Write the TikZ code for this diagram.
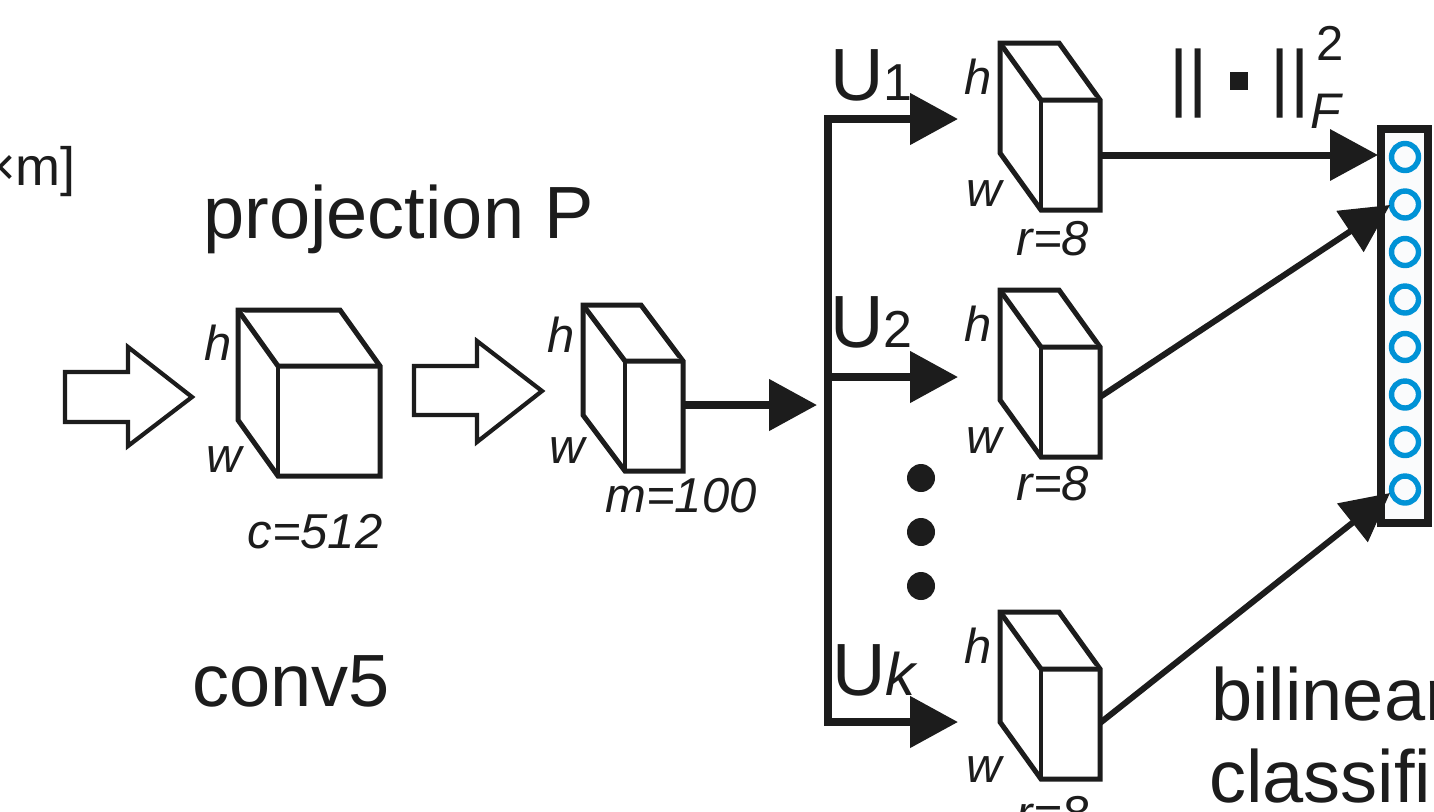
\documentclass[tikz,border=0pt]{standalone}
\usepackage{fontspec}
\setmainfont{Liberation Sans}
\usetikzlibrary{arrows.meta}
\definecolor{ink}{RGB}{28,28,28}
\definecolor{ringblue}{RGB}{0,146,214}
\definecolor{clffill}{RGB}{250,251,252}
\newcommand\mycube[6]{%
  \pgfmathsetmacro\cbAx{#1+#3}\pgfmathsetmacro\cbAy{#2+#4}%
  \pgfmathsetmacro\cbBx{#1+#5}\pgfmathsetmacro\cbCx{#1+#3+#5}%
  \pgfmathsetmacro\cbBy{#2+#6}\pgfmathsetmacro\cbCy{#2+#4+#6}%
  \filldraw[cubeline] (#1,#2) -- (\cbBx,#2) -- (\cbCx,\cbAy) -- (\cbCx,\cbCy) -- (\cbAx,\cbCy) -- (#1,\cbBy) -- cycle;
  \draw[cubeline] (#1,#2) -- (\cbAx,\cbAy) -- (\cbCx,\cbAy);
  \draw[cubeline, line width=1.8pt] (\cbAx,\cbAy) -- (\cbAx,\cbCy);
}
\begin{document}
\begin{tikzpicture}[x=0.5pt,y=-0.5pt,
  cubeline/.style={draw=ink, fill=white, line width=2.5pt, line join=miter},
  blockarrow/.style={draw=ink, fill=white, line width=2.1pt, line join=miter},
  bigtext/.style={font=\fontsize{37}{40}\selectfont, text=ink, inner sep=0pt, anchor=base west},
  dimtext/.style={font=\fontsize{24.5}{26}\selectfont\itshape, text=ink, inner sep=0pt},
  thickarrow/.style={draw=ink, line width=4pt, -{Triangle[length=24pt,width=25pt]}},
  midarrow/.style={draw=ink, line width=3.5pt, -{Triangle[length=24pt,width=25pt]}},
  thinarrow/.style={draw=ink, line width=3pt, -{Triangle[length=24pt,width=24pt]}},
  ring/.style={draw=ringblue, line width=2.7pt},
  dot/.style={fill=ink}]
\useasboundingbox (0,0) rectangle (1434,811);
\clip (0,0) rectangle (1434,811);
\fill[white] (0,0) rectangle (1434,811);

% texts
\node[bigtext, font=\fontsize{27}{29}\selectfont] (dimtag) at (-16,185) {×m]};
\node[bigtext] (projlabel) at (203,238) {projection P};
\node[bigtext] (convlabel) at (192,706) {conv5};
\node[bigtext] (bilin) at (1211,720) {bilinear};
\node[bigtext] (classif) at (1209,802) {classifi};

% hollow block arrows
\draw[blockarrow] (65,372) -- (128,372) -- (128,347) -- (192,397) -- (128,446) -- (128,422) -- (65,422) -- cycle;
\draw[blockarrow] (414,366) -- (477,366) -- (477,341) -- (542,391) -- (477,442) -- (477,415) -- (414,415) -- cycle;

% cubes
\mycube{238}{310}{40}{56}{102}{110}
\mycube{583}{305}{42}{56}{58}{110}
\mycube{1000}{43}{41}{57}{59}{110}
\mycube{1000}{290}{41}{57}{59}{110}
\mycube{1000}{612}{41}{57}{59}{110}

% cube labels
\node[dimtext, anchor=base east] (h1) at (232,360) {h};
\node[dimtext, anchor=base east] (w1) at (242,472) {w};
\node[dimtext, anchor=base] (c1) at (315,548) {c=512};
\node[dimtext, anchor=base east] (h2) at (575,352) {h};
\node[dimtext, anchor=base east] (w2) at (585,463) {w};
\node[dimtext, anchor=base] (m2) at (681,512) {m=100};
\node[dimtext, anchor=base east] (hu1) at (992,94) {h};
\node[dimtext, anchor=base east] (wu1) at (1002,206) {w};
\node[dimtext, anchor=base] (ru1) at (1053,255) {r=8};
\node[dimtext, anchor=base east] (hu2) at (992,341) {h};
\node[dimtext, anchor=base east] (wu2) at (1002,453) {w};
\node[dimtext, anchor=base] (ru2) at (1053,500) {r=8};
\node[dimtext, anchor=base east] (huk) at (992,663) {h};
\node[dimtext, anchor=base east] (wuk) at (1002,782) {w};
\node[dimtext, anchor=base] (ruk) at (1053,830) {r=8};

% U labels
\node[bigtext] (u1) at (830,100) {U{\fontsize{26}{28}\selectfont 1}};
\node[bigtext] (u2) at (830,347) {U{\fontsize{26}{28}\selectfont 2}};
\node[bigtext] (uk) at (832,695) {U{\fontsize{30}{32}\selectfont\itshape k}};

% norm label
\node[bigtext] (norm) at (1169,102.5) {||\hspace{11pt}\rule[6.25pt]{9pt}{9pt}\hspace{11.5pt}||};
\node[dimtext, anchor=base west, font=\fontsize{25}{27}\selectfont\itshape] (normF) at (1310,128) {F};
\node[dimtext, anchor=base west, font=\fontsize{24.5}{26}\selectfont] (norm2) at (1316,60) {2};

% classifier column
\node[draw=ink, line width=4pt, fill=clffill, minimum width=23.5pt, minimum height=197pt, inner sep=0pt] (clf) at (1404.5,326) {};
\foreach \i in {0,...,7} \draw[ring] (1405,{157+47.5*\i}) circle[radius=13.5];

% coordinates
\coordinate (cube2out) at (683,405);
\coordinate (junction) at (817,405);
\coordinate (busTop) at (828,119);
\coordinate (busBot) at (828,722);
\coordinate (u1in) at (958,119);
\coordinate (u2in) at (958,377);
\coordinate (ukin) at (958,722);
\coordinate (bus2) at (828,377);
\coordinate (u1out) at (1100,155);
\coordinate (u2out) at (1100,397);
\coordinate (ukout) at (1100,723);
\coordinate (clfin1) at (1378,155);
\coordinate (clfin2) at (1390,205);
\coordinate (clfin3) at (1390,493);

% connectors
\draw[thickarrow] (cube2out) -- (junction);
\draw[draw=ink, line width=4pt, line join=miter, {Triangle[length=24pt,width=25pt]}-{Triangle[length=24pt,width=25pt]}] (u1in) -- (busTop) -- (busBot) -- (ukin);
\draw[thickarrow] (bus2) -- (u2in);
\draw[midarrow] (u1out) -- (clfin1);
\draw[thinarrow] (u2out) -- (clfin2);
\draw[thinarrow] (ukout) -- (clfin3);

% dots
\fill[dot] (921,478) circle[radius=14];
\fill[dot] (921,532) circle[radius=14];
\fill[dot] (921,586) circle[radius=14];
\end{tikzpicture}
\end{document}
